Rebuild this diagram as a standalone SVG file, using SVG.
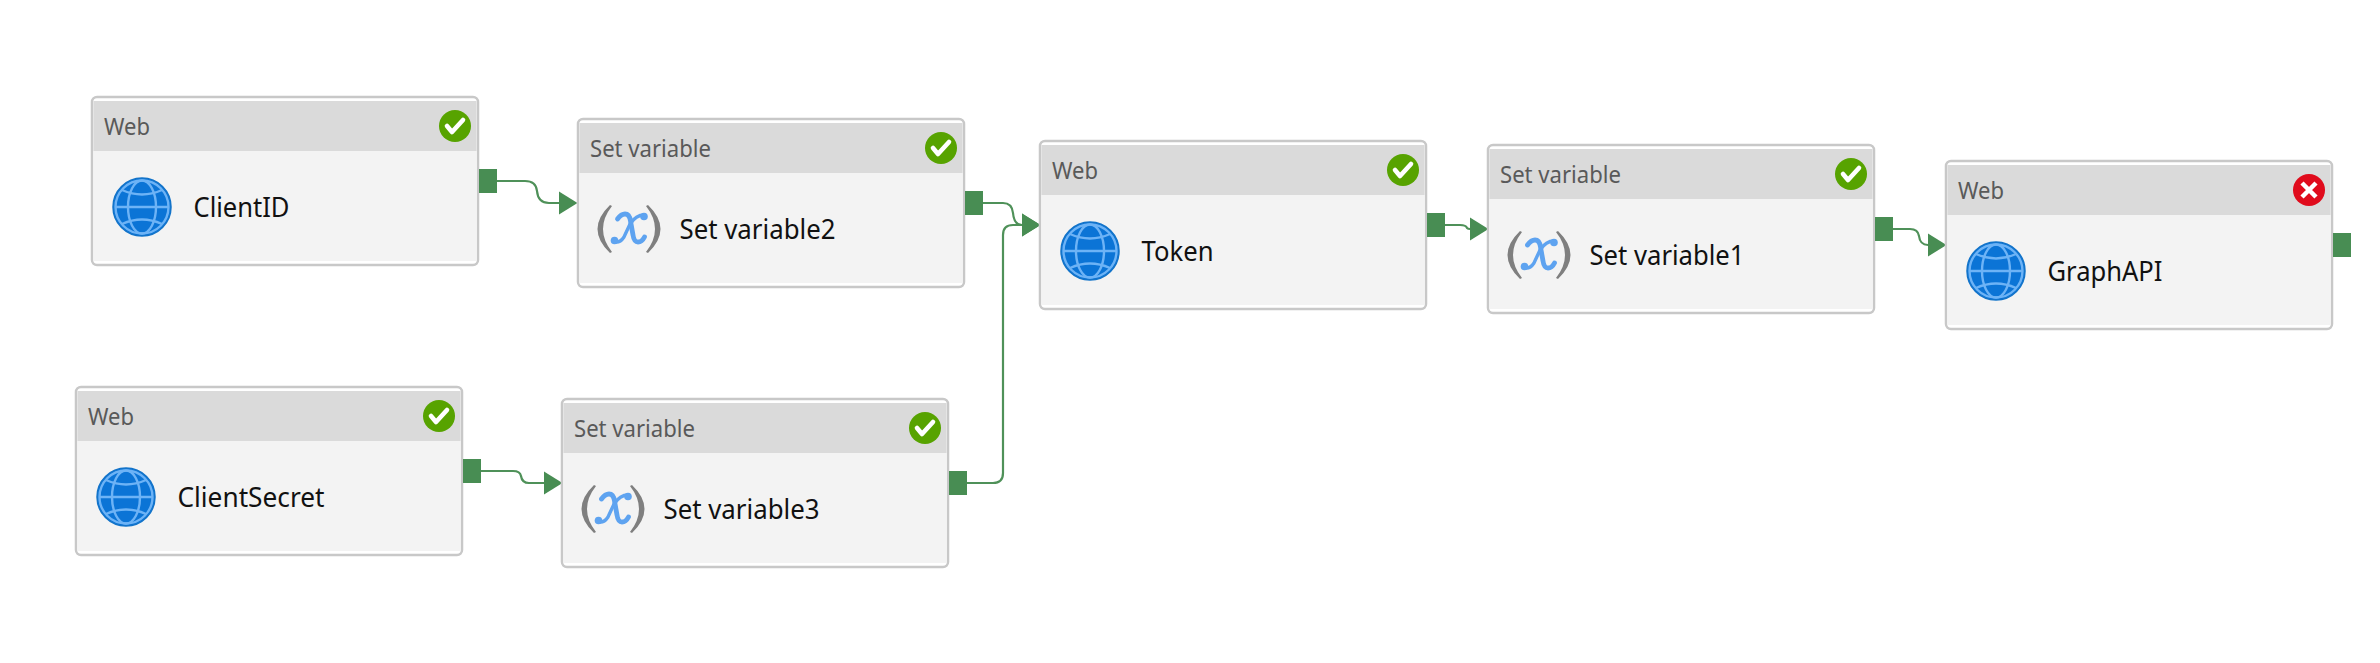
<svg xmlns="http://www.w3.org/2000/svg" xmlns:xlink="http://www.w3.org/1999/xlink" width="2380" height="663" viewBox="0 0 2380 663">
<style>
.card{fill:#fff;stroke:#c8c8c8;stroke-width:2.5}
.head{fill:#dadada}
.body{fill:#f3f3f3}
.port{fill:#488d53}
.kind{font-family:"Noto Sans","Open Sans",sans-serif;font-size:24px;fill:#595959}
.name{font-family:"Noto Sans","Open Sans",sans-serif;font-size:28px;fill:#111}
.link{fill:none;stroke:#4f9159;stroke-width:2.2;marker-end:url(#arrow)}
.tick{fill:none;stroke:#fff;stroke-width:4.6;stroke-linecap:round;stroke-linejoin:round}
</style>
<defs>
<marker id="arrow" markerUnits="userSpaceOnUse" markerWidth="19" markerHeight="24" refX="0" refY="12" orient="auto">
<path d="M0 0.500L18.500 12L0 23.500Z" fill="#488d53"/>
</marker>
<g id="card">
<rect class="card" x="0" y="0" width="386" height="168" rx="5"/>
<rect class="head" x="1.5" y="4" width="383" height="50"/>
<rect class="body" x="1.5" y="54" width="383" height="110"/>
</g>
<g id="ok">
<circle r="16" fill="#57a300"/>
<path class="tick" d="M-8 0L-3 6L8 -6"/>
</g>
<g id="fail">
<circle r="16" fill="#e00b1c"/>
<path d="M-7 -7L7 7M7 -7L-7 7" fill="none" stroke="#fff" stroke-width="4.5"/>
</g>
<g id="globe">
<circle r="29" fill="#0b74d6" stroke="#1273c9" stroke-width="1.5"/>
<g fill="none" stroke="#6db3f6" stroke-width="2.4">
<circle r="26.5"/>
<ellipse rx="14" ry="26.5"/>
<path d="M-26.5 0H26.5"/>
<path d="M-20 -17Q0 -8 20 -17"/>
<path d="M-20 17Q0 8 20 17"/>
</g>
</g>
<g id="fx">
<path d="M-18 -24Q-43 0 -18 24L-16 23Q-34 0 -16 -23Z" fill="#7f7f7f"/>
<path d="M20 -24Q45 0 20 24L18 23Q36 0 18 -23Z" fill="#7f7f7f"/>
<g fill="none" stroke="#5ea3f0" stroke-linecap="round">
<path d="M-10.5 -10Q-7 -15 -3 -15Q1.500 -15 2.500 -8L5 6Q6 13 10 13Q14 13 16.500 8" stroke-width="4.800"/>
<path d="M16 -14Q8 -14 2 -5L-4 8Q-8 14 -13 13" stroke-width="3.400"/>
</g>
<circle cx="16" cy="-12.500" r="3.800" fill="#5ea3f0"/>
<circle cx="-13.500" cy="11.500" r="3.800" fill="#5ea3f0"/>
</g>
</defs>
<rect width="2380" height="663" fill="#fff"/>
<g id="connectors">
<path class="link" d="M497 181H525Q536 181 537 191Q538 203 549 203H559"/>
<path class="link" d="M983 203H1003Q1012 203 1013 213Q1014 225 1022 225"/>
<path class="link" d="M967 483H993Q1003 483 1003 473V235Q1003 225 1013 225H1022"/>
<path class="link" d="M1445 225H1460Q1466 225 1467 228Q1468 229 1470 229"/>
<path class="link" d="M1893 229H1910Q1918 229 1919 236Q1920 245 1928 245"/>
<path class="link" d="M481 471H513Q520 471 521 476Q522 483 529 483H544"/>
</g>
<g id="node-clientid" transform="translate(92 97)">
<use href="#card"/><rect class="port" x="387" y="72" width="18" height="24"/>
<text class="kind" x="12" y="38" textLength="46" lengthAdjust="spacingAndGlyphs">Web</text>
<use href="#ok" x="363" y="29"/><use href="#globe" x="50" y="110"/>
<text class="name" x="101.500" y="120" textLength="96" lengthAdjust="spacingAndGlyphs">ClientID</text>
</g>
<g id="node-setvariable2" transform="translate(578 119)">
<use href="#card"/><rect class="port" x="387" y="72" width="18" height="24"/>
<text class="kind" x="12" y="38" textLength="121" lengthAdjust="spacingAndGlyphs">Set variable</text>
<use href="#ok" x="363" y="29"/><use href="#fx" x="50" y="110"/>
<text class="name" x="101.500" y="120" textLength="156" lengthAdjust="spacingAndGlyphs">Set variable2</text>
</g>
<g id="node-token" transform="translate(1040 141)">
<use href="#card"/><rect class="port" x="387" y="72" width="18" height="24"/>
<text class="kind" x="12" y="38" textLength="46" lengthAdjust="spacingAndGlyphs">Web</text>
<use href="#ok" x="363" y="29"/><use href="#globe" x="50" y="110"/>
<text class="name" x="101.500" y="120" textLength="72" lengthAdjust="spacingAndGlyphs">Token</text>
</g>
<g id="node-setvariable1" transform="translate(1488 145)">
<use href="#card"/><rect class="port" x="387" y="72" width="18" height="24"/>
<text class="kind" x="12" y="38" textLength="121" lengthAdjust="spacingAndGlyphs">Set variable</text>
<use href="#ok" x="363" y="29"/><use href="#fx" x="50" y="110"/>
<text class="name" x="101.500" y="120" textLength="155" lengthAdjust="spacingAndGlyphs">Set variable1</text>
</g>
<g id="node-graphapi" transform="translate(1946 161)">
<use href="#card"/><rect class="port" x="387" y="72" width="18" height="24"/>
<text class="kind" x="12" y="38" textLength="46" lengthAdjust="spacingAndGlyphs">Web</text>
<use href="#fail" x="363" y="29"/><use href="#globe" x="50" y="110"/>
<text class="name" x="101.500" y="120" textLength="115" lengthAdjust="spacingAndGlyphs">GraphAPI</text>
</g>
<g id="node-clientsecret" transform="translate(76 387)">
<use href="#card"/><rect class="port" x="387" y="72" width="18" height="24"/>
<text class="kind" x="12" y="38" textLength="46" lengthAdjust="spacingAndGlyphs">Web</text>
<use href="#ok" x="363" y="29"/><use href="#globe" x="50" y="110"/>
<text class="name" x="101.500" y="120" textLength="147" lengthAdjust="spacingAndGlyphs">ClientSecret</text>
</g>
<g id="node-setvariable3" transform="translate(562 399)">
<use href="#card"/><rect class="port" x="387" y="72" width="18" height="24"/>
<text class="kind" x="12" y="38" textLength="121" lengthAdjust="spacingAndGlyphs">Set variable</text>
<use href="#ok" x="363" y="29"/><use href="#fx" x="50" y="110"/>
<text class="name" x="101.500" y="120" textLength="156" lengthAdjust="spacingAndGlyphs">Set variable3</text>
</g>
</svg>
